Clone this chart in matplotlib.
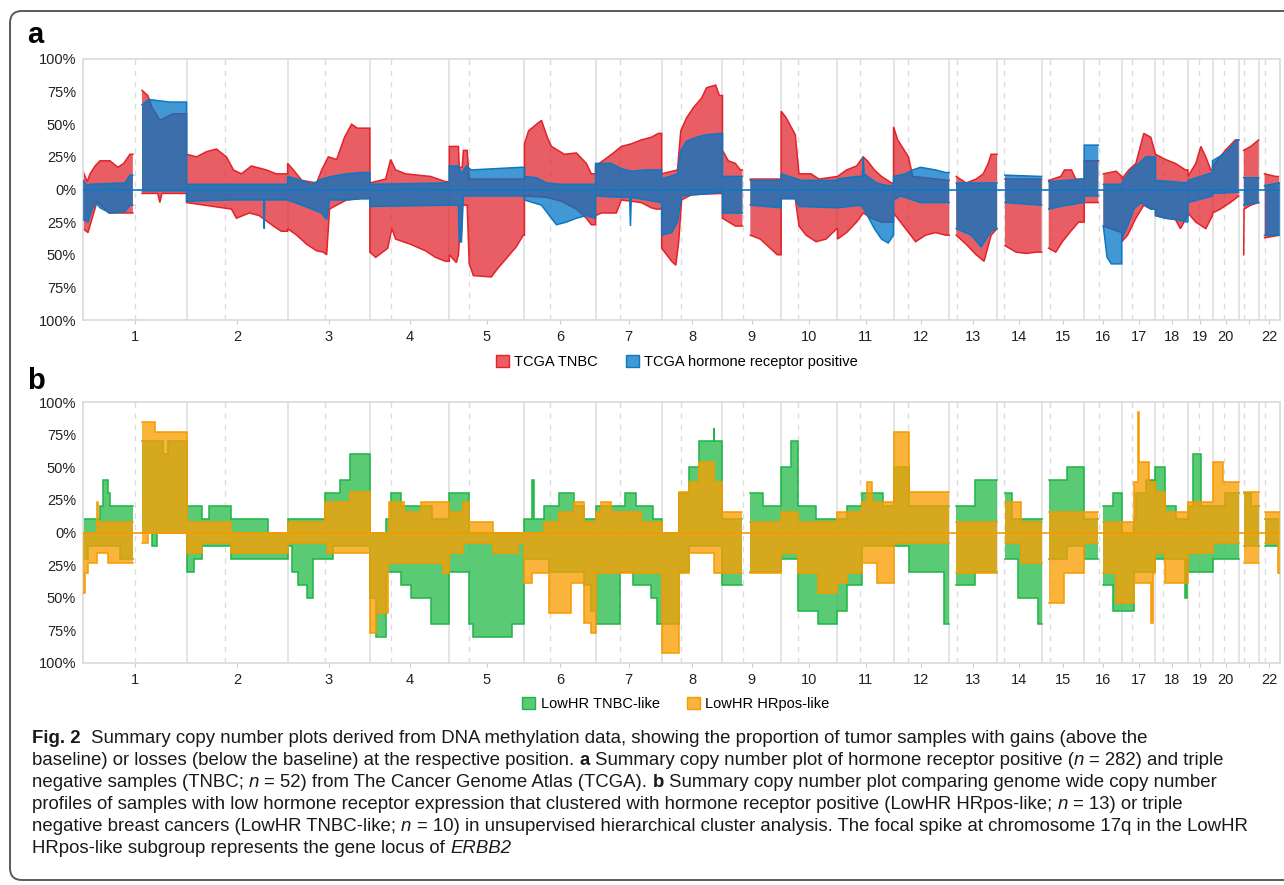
import numpy as np
import matplotlib
matplotlib.use("Agg")
import matplotlib.pyplot as plt
from matplotlib.patches import Patch, FancyBboxPatch
from matplotlib.transforms import IdentityTransform
from matplotlib import font_manager
from matplotlib.colors import to_rgba

plt.rcParams['font.family'] = ['Liberation Sans', 'DejaVu Sans']

# ---------------- data ----------------
chrom_labels = [str(i) for i in range(1, 23)]
chrom_len = [249.25, 243.20, 198.02, 191.15, 180.92, 171.12, 159.14, 146.36, 141.21, 135.53,
             135.01, 133.85, 115.17, 107.35, 102.53, 90.35, 81.20, 78.08, 59.13, 63.03, 48.13, 51.30]
centromere = [125.0, 93.3, 91.0, 50.4, 48.4, 61.0, 59.9, 45.6, 49.0, 40.2, 53.7, 35.8,
              17.9, 17.6, 19.0, 36.6, 24.0, 17.2, 26.5, 27.5, 13.2, 14.7]
y_ticks = [-100, -75, -50, -25, 0, 25, 50, 75, 100]
y_labels = ["100%", "75%", "50%", "25%", "0%", "25%", "50%", "75%", "100%"]

# panel a: percent of samples, (position in chromosome [Mb], percent); None = no data
tnbc_gain = [
    [(0,14),(10,6),(17,12),(29,18),(41,22),(65,22),(84,17),(98,20),(113,27),(120,None),(142,76),(156,72),(166,63),(185,53),(216,58)],
    [(0,27),(24,25),(48,29),(72,31),(96,25),(113,15),(132,12),(156,18),(192,15),(216,12)],
    [(0,20),(14,15),(34,7),(70,5),(82,15),(98,25),(118,23),(137,40),(154,50),(168,47)],
    [(0,5),(38,8),(50,23),(62,15),(86,12),(146,10),(182,6)],
    [(0,33),(22,33),(24,17),(31,17),(34,30),(43,30),(48,8)],
    [(0,35),(10,45),(29,50),(41,53),(55,40),(65,33),(96,27),(125,28),(149,20),(161,12)],
    [(0,18),(22,23),(43,28),(62,33),(86,35),(110,38),(134,40),(151,43)],
    [(0,12),(38,15),(46,45),(60,55),(77,63),(96,70),(108,78),(130,80),(139,72)],
    [(0,30),(14,22),(31,20),(43,15),(48,None),(67,8)],
    [(0,60),(12,55),(24,48),(34,42),(43,12),(72,12),(91,8),(134,10)],
    [(0,10),(22,15),(46,18),(62,25),(72,22),(89,15),(106,10),(130,5)],
    [(0,48),(10,38),(22,32),(36,25),(46,10),(132,7)],
    [(0,None),(17,10),(41,5),(65,8),(82,12),(94,20),(101,27)],
    [(0,None),(19,8)],
    [(0,None),(17,7),(46,10),(55,15),(72,15),(82,8)],
    [(0,22),(34,None),(46,12),(77,14),(90,10)],
    [(0,8),(17,15),(34,20),(53,43),(70,40),(81,27)],
    [(0,27),(24,23),(48,20),(72,15)],
    [(0,10),(19,20),(31,33),(43,25),(55,15)],
    [(0,18),(31,30),(55,38)],
    [(0,None),(12,30),(29,33),(48,38)],
    [(0,None),(14,12),(41,10)],
]
tnbc_loss = [
    [(0,30),(12,33),(22,22),(34,9),(62,18),(113,18),(120,None),(142,3),(180,3),(185,10),(190,3)],
    [(0,10),(108,15),(120,22),(151,18),(175,20),(192,24),(209,28),(228,32)],
    [(0,30),(22,35),(46,42),(70,47),(86,48),(94,50),(101,15),(118,12),(142,8),(178,7)],
    [(0,48),(14,52),(43,45),(53,30),(62,38),(98,42),(134,47),(158,52),(182,55)],
    [(0,50),(17,56),(22,50),(24,40),(29,40),(31,12),(43,12),(48,57),(58,66),(101,67),(118,60),(137,53),(161,44),(178,35)],
    [(0,5),(53,6),(89,9),(125,15),(149,22),(161,27)],
    [(0,20),(14,18),(50,18),(62,8),(110,10),(134,14),(146,15)],
    [(0,45),(12,50),(24,55),(34,58),(41,40),(48,8),(72,4),(146,3)],
    [(0,22),(31,28),(48,None),(67,35),(91,38),(115,45),(132,50)],
    [(0,7),(34,7),(43,28),(60,35),(84,40),(108,38),(134,30)],
    [(0,38),(22,33),(46,25),(62,18),(82,22),(106,25)],
    [(0,18),(17,25),(41,35),(53,40),(77,35),(101,33),(125,35)],
    [(0,None),(17,35),(41,42),(65,50),(84,55),(101,35),(115,30)],
    [(0,None),(19,43),(46,48),(70,49),(94,48)],
    [(0,None),(17,45),(34,48),(50,40),(70,32),(89,25)],
    [(0,10),(34,None),(46,28),(90,33)],
    [(0,40),(14,35),(34,22),(53,12),(70,15)],
    [(0,20),(24,22),(48,23),(60,30),(77,20)],
    [(0,18),(19,25),(43,30),(59,20)],
    [(0,18),(19,15),(43,10),(63,5)],
    [(0,None),(12,50),(13,15),(29,12),(48,10)],
    [(0,None),(14,37),(51,35)],
]
hr_gain = [
    [(0,7),(10,3),(17,4),(101,5),(113,11),(120,None),(142,65),(158,69),(209,67)],
    [(0,4)],
    [(0,10),(34,7),(58,4),(82,8),(106,10),(142,12),(178,13)],
    [(0,4),(190,5)],
    [(0,18),(22,18),(29,12),(41,18),(53,15),(173,17)],
    [(0,10),(29,9),(53,5),(89,4)],
    [(0,20),(38,20),(62,16),(86,14),(122,15)],
    [(0,8),(38,12),(46,30),(60,37),(84,40),(108,42),(146,43)],
    [(0,10),(48,None),(67,7)],
    [(0,12),(48,7)],
    [(0,8),(46,10),(60,10),(62,25),(64,12),(94,5),(118,3)],
    [(0,10),(29,12),(46,15),(65,17),(101,15),(125,13)],
    [(0,None),(17,5)],
    [(0,None),(19,11),(107,10)],
    [(0,None),(17,6),(100,8)],
    [(0,34),(34,None),(46,4)],
    [(0,5),(22,15),(41,20),(58,25)],
    [(0,7),(78,5)],
    [(0,7),(31,10),(59,13)],
    [(0,22),(31,28),(60,38)],
    [(0,None),(12,9)],
    [(0,None),(14,3),(48,5)],
]
hr_loss = [
    [(0,23),(12,25),(22,15),(31,10),(41,14),(65,18),(101,17),(113,12),(120,None),(142,1)],
    [(0,9),(108,8),(186,8),(187,30),(188,8)],
    [(0,8),(34,12),(58,15),(82,18),(94,23),(101,8),(142,8),(178,7)],
    [(0,13),(190,12)],
    [(0,12),(22,12),(24,40),(29,40),(34,5)],
    [(0,8),(41,12),(60,20),(77,27),(101,25),(125,22),(149,20),(170,22)],
    [(0,5),(62,6),(82,6),(84,28),(86,6),(158,10)],
    [(0,35),(24,33),(38,25),(48,5),(146,2)],
    [(0,18),(48,None),(67,12),(139,14)],
    [(0,7),(34,7),(43,13),(134,14)],
    [(0,14),(58,12),(72,20),(89,30),(106,38),(122,41),(135,35)],
    [(0,8),(17,5),(65,10)],
    [(0,None),(17,30),(53,35),(77,44),(101,32),(115,30)],
    [(0,None),(19,10),(107,12)],
    [(0,None),(17,15),(46,13),(100,10)],
    [(0,5),(34,None),(46,28),(55,52),(65,57)],
    [(0,38),(14,28),(29,15),(46,10),(70,15)],
    [(0,20),(24,22),(48,23),(78,25)],
    [(0,10),(59,5)],
    [(0,3),(63,2)],
    [(0,None),(12,12),(48,10)],
    [(0,None),(14,35),(51,35)],
]

# panel b: number of samples (segment start [Mb], count); None = no data
n_tnbc_like = 10
n_hrpos_like = 13
tnbclike_gain = [
    [(0,1),(41,2),(48,4),(60,3),(65,2),(120,None),(142,7),(192,6),(204,7)],
    [(0,2),(36,1),(53,2),(108,1),(197,0)],
    [(0,1),(89,3),(125,4),(149,6)],
    [(0,0),(38,1),(50,3),(74,2),(149,1)],
    [(0,3),(48,0)],
    [(0,1),(17,4),(24,1),(48,2),(84,3),(120,2),(144,1)],
    [(0,2),(72,3),(98,2),(139,1)],
    [(0,0),(41,3),(65,5),(91,7),(125,8),(127,7)],
    [(0,1),(48,None),(67,3),(98,2)],
    [(0,5),(24,7),(41,2),(84,1)],
    [(0,1),(22,2),(58,3),(110,2)],
    [(0,5),(36,2)],
    [(0,None),(17,2),(62,4)],
    [(0,None),(19,3),(36,1)],
    [(0,None),(17,4),(62,5)],
    [(0,1),(34,None),(46,2),(70,3)],
    [(0,0),(29,1),(34,3),(58,4)],
    [(0,5),(22,2),(50,1)],
    [(0,2),(12,6),(31,2)],
    [(0,2),(30,3)],
    [(0,None),(12,3),(29,2)],
    [(0,None),(14,1)],
]
tnbclike_loss = [
    [(0,2),(12,1),(89,2),(120,None),(142,0),(166,1),(178,0)],
    [(0,3),(17,2),(36,1),(108,2)],
    [(0,1),(10,3),(26,4),(46,5),(62,2),(110,1)],
    [(0,5),(14,8),(38,3),(74,4),(98,5),(146,7)],
    [(0,3),(48,7),(58,8),(151,7)],
    [(0,2),(58,3),(144,4),(161,6)],
    [(0,7),(58,3),(91,4),(134,5),(149,7)],
    [(0,7),(41,3),(65,1)],
    [(0,4),(48,None),(67,3)],
    [(0,2),(41,6),(89,7)],
    [(0,6),(22,4),(58,1)],
    [(0,1),(36,3),(122,7)],
    [(0,None),(17,4),(62,3)],
    [(0,None),(19,2),(50,5),(98,7)],
    [(0,None),(17,2),(62,1)],
    [(0,2),(34,None),(46,4),(70,6)],
    [(0,6),(29,3)],
    [(0,2),(72,5),(75,2)],
    [(0,3)],
    [(0,2)],
    [(0,None),(12,1)],
    [(0,None),(14,1)],
]
hrposlike_gain = [
    [(0,0),(34,3),(36,1),(120,None),(142,11),(173,10)],
    [(0,1),(108,0)],
    [(0,1),(89,3),(149,4)],
    [(0,0),(46,3),(82,2),(122,3)],
    [(0,2),(34,3),(48,1),(106,0)],
    [(0,0),(48,1),(84,2),(120,3),(144,1)],
    [(0,2),(14,3),(38,2),(110,1)],
    [(0,0),(41,4),(65,5),(89,7),(127,5)],
    [(0,2),(48,None),(67,1)],
    [(0,2),(41,1)],
    [(0,2),(58,3),(72,5),(82,3)],
    [(0,10),(36,4)],
    [(0,None),(17,1)],
    [(0,None),(19,3),(58,1)],
    [(0,None),(17,2)],
    [(0,2),(34,None),(46,1)],
    [(0,1),(29,5),(39,12),(40.5,7),(65,5)],
    [(0,4),(22,2)],
    [(0,3)],
    [(0,7),(26,5)],
    [(0,None),(12,4)],
    [(0,None),(14,2)],
]
hrposlike_loss = [
    [(0,6),(5,4),(12,3),(34,2),(60,3),(120,None),(142,1),(156,0)],
    [(0,2),(36,1),(108,2)],
    [(0,1),(94,2)],
    [(0,10),(14,8),(43,3),(175,4)],
    [(0,2),(34,1),(106,2),(166,1)],
    [(0,5),(17,4),(58,8),(113,5),(144,9),(161,10)],
    [(0,4)],
    [(0,12),(41,4),(65,2),(127,4)],
    [(0,4),(48,None),(67,4)],
    [(0,2),(41,4),(89,6)],
    [(0,5),(22,4),(58,3),(94,5)],
    [(0,1)],
    [(0,None),(17,4)],
    [(0,None),(19,1),(58,3)],
    [(0,None),(17,7),(53,4)],
    [(0,1),(34,None),(46,4),(77,7)],
    [(0,7),(29,5),(70,9),(74,4)],
    [(0,2),(22,5)],
    [(0,2)],
    [(0,1)],
    [(0,None),(12,3)],
    [(0,None),(14,1),(46,4)],
]

legend_a = ["TCGA TNBC", "TCGA hormone receptor positive"]
legend_b = ["LowHR TNBC-like", "LowHR HRpos-like"]

# ---------------- styling ----------------
W, H = 1284, 885
RED, RED_E = "#E11A22", "#E3222A"
BLUE, BLUE_E = "#0074C5", "#0C78C2"
GREEN, GREEN_E = "#2CBC4E", "#1EB446"
ORANGE, ORANGE_E = "#F99F05", "#F59A00"
GRID = "#DCDCDC"

offsets = np.concatenate([[0.0], np.cumsum(chrom_len)[:-1]])
total = float(np.sum(chrom_len))


def profile(series, step, scale=1.0):
    xs, ys = [], []
    for ci, pts in enumerate(series):
        off, L = offsets[ci], chrom_len[ci]
        for k, (p, v) in enumerate(pts):
            nxt = pts[k + 1][0] if k + 1 < len(pts) else L
            if v is None:
                xs.append(np.nan); ys.append(np.nan)
                continue
            v = v * scale
            if step:
                xs += [off + p, off + nxt]; ys += [v, v]
            else:
                xs.append(off + p); ys.append(v)
                if k + 1 == len(pts) or pts[k + 1][1] is None:
                    xs.append(off + nxt); ys.append(v)
    return np.array(xs, float), np.array(ys, float)


def draw_layer(ax, gain, loss, face, edge, alpha, step, scale, z):
    for series, sign in ((gain, 1), (loss, -1)):
        x, y = profile(series, step, scale)
        y = sign * y
        ax.fill_between(x, 0, y, facecolor=face, alpha=alpha, linewidth=0, zorder=z)
        ax.plot(x, y, color=edge, lw=1.1, zorder=z + 0.5, solid_joinstyle='miter')


def setup_axes(ax):
    ax.set_xlim(0, total)
    ax.set_ylim(-100, 100)
    for b in offsets[1:]:
        ax.axvline(b, color=GRID, lw=1.1, zorder=0)
    for ci, c in enumerate(centromere):
        ax.axvline(offsets[ci] + c, color=GRID, lw=1.0, dashes=(4, 4), zorder=0)
    ax.set_yticks(y_ticks)
    ax.set_yticklabels(y_labels)
    mids = offsets + np.array(chrom_len) / 2
    ax.set_xticks(mids)
    ax.set_xticklabels([lab if lab != "21" else "" for lab in chrom_labels])
    ax.tick_params(axis='y', length=0, pad=5, labelsize=10.5, labelcolor='#222222')
    ax.tick_params(axis='x', length=3, width=0.8, color='#CCCCCC', pad=4, labelsize=10.5,
                   labelcolor='#222222')
    for s in ax.spines.values():
        s.set_color(GRID)
        s.set_linewidth(1.3)


fig = plt.figure(figsize=(W / 100, H / 100), dpi=100)


def axes_rect(left, top, right, bottom):
    return [left / W, 1 - bottom / H, (right - left) / W, (bottom - top) / H]


ax_a = fig.add_axes(axes_rect(83, 59, 1280, 320))
setup_axes(ax_a)
draw_layer(ax_a, tnbc_gain, tnbc_loss, RED, RED_E, 0.70, False, 1.0, 2)
draw_layer(ax_a, hr_gain, hr_loss, BLUE, BLUE_E, 0.74, False, 1.0, 3)
ax_a.axhline(0, color=BLUE_E, lw=1.2, zorder=5)

ax_b = fig.add_axes(axes_rect(83, 402, 1280, 663))
setup_axes(ax_b)
draw_layer(ax_b, tnbclike_gain, tnbclike_loss, GREEN, GREEN_E, 0.78, True, 100.0 / n_tnbc_like, 2)
draw_layer(ax_b, hrposlike_gain, hrposlike_loss, ORANGE, ORANGE_E, 0.78, True, 100.0 / n_hrpos_like, 3)
ax_b.axhline(0, color=ORANGE_E, lw=1.2, zorder=5)

# legends
def add_legend(labels, faces, edges, alphas, cx, cy):
    handles = [Patch(facecolor=to_rgba(f, a), edgecolor=e, linewidth=1.0, label=l)
               for l, f, e, a in zip(labels, faces, edges, alphas)]
    fig.legend(handles=handles, loc='center', bbox_to_anchor=(cx / W, 1 - cy / H), ncol=2,
               frameon=False, fontsize=10.5, handlelength=0.9, handleheight=0.9,
               handletextpad=0.35, columnspacing=1.9, borderpad=0, borderaxespad=0)

add_legend(legend_a, [RED, BLUE], [RED_E, BLUE_E], [0.7, 0.74], 677, 362)
add_legend(legend_b, [GREEN, ORANGE], [GREEN_E, ORANGE_E], [0.78, 0.78], 676, 704)

# panel letters
fig.text(27 / W, 1 - 43 / H, "a", fontsize=21, fontweight='bold', va='baseline', ha='left')
fig.text(27 / W, 1 - 389 / H, "b", fontsize=21, fontweight='bold', va='baseline', ha='left')

# outer rounded frame
frame = FancyBboxPatch((10, 5), 1330, 869, boxstyle="round,pad=0,rounding_size=12",
                       transform=IdentityTransform(), facecolor='none', edgecolor='#5A5A5A',
                       linewidth=1.4, clip_on=False)
fig.add_artist(frame)

# caption
names = {f.name for f in font_manager.fontManager.ttflist}
cap_family = 'Liberation Sans Narrow' if 'Liberation Sans Narrow' in names else 'Liberation Sans'

caption_lines = [
    [("Fig. 2", 'b', 0), ("Summary copy number plots derived from DNA methylation data, showing the proportion of tumor samples with gains (above the", 'n', 2)],
    [("baseline) or losses (below the baseline) at the respective position.", 'n', 0), ("a", 'b', 1),
     ("Summary copy number plot of hormone receptor positive (", 'n', 1), ("n", 'i', 0), ("= 282) and triple", 'n', 1)],
    [("negative samples (TNBC;", 'n', 0), ("n", 'i', 1), ("= 52) from The Cancer Genome Atlas (TCGA).", 'n', 1), ("b", 'b', 1),
     ("Summary copy number plot comparing genome wide copy number", 'n', 1)],
    [("profiles of samples with low hormone receptor expression that clustered with hormone receptor positive (LowHR HRpos-like;", 'n', 0),
     ("n", 'i', 1), ("= 13) or triple", 'n', 1)],
    [("negative breast cancers (LowHR TNBC-like;", 'n', 0), ("n", 'i', 1),
     ("= 10) in unsupervised hierarchical cluster analysis. The focal spike at chromosome 17q in the LowHR", 'n', 1)],
    [("HRpos-like subgroup represents the gene locus of", 'n', 0), ("ERBB2", 'i', 1)],
]
renderer = fig.canvas.get_renderer()


def fprops(style, size):
    return font_manager.FontProperties(family=[cap_family, 'DejaVu Sans'], size=size,
                                       weight='bold' if style == 'b' else 'normal',
                                       style='italic' if style == 'i' else 'normal')


def measure(s, fp):
    t = fig.text(0, 0, s, fontproperties=fp)
    w = t.get_window_extent(renderer).width
    t.remove()
    return w


def line_width(runs, size):
    sp = measure("a a", fprops('n', size)) - measure("aa", fprops('n', size))
    return sum(measure(s, fprops(st, size)) + n * sp for s, st, n in runs), sp


# fit the widest caption line into the frame width
widest = max(line_width(r, 12)[0] for r in caption_lines)
cap_size = 12 * 1222 / widest
_, space_w = line_width(caption_lines[1], cap_size)
baselines = [743, 765, 787, 809, 831, 853]
for runs, yb in zip(caption_lines, baselines):
    x = 32.0
    for s, st, n in runs:
        x += n * space_w
        fp = fprops(st, cap_size)
        t = fig.text(x / W, 1 - yb / H, s, fontproperties=fp, va='baseline', ha='left', color='#1a1a1a')
        x += t.get_window_extent(renderer).width

fig.savefig("out.png", dpi=100)
